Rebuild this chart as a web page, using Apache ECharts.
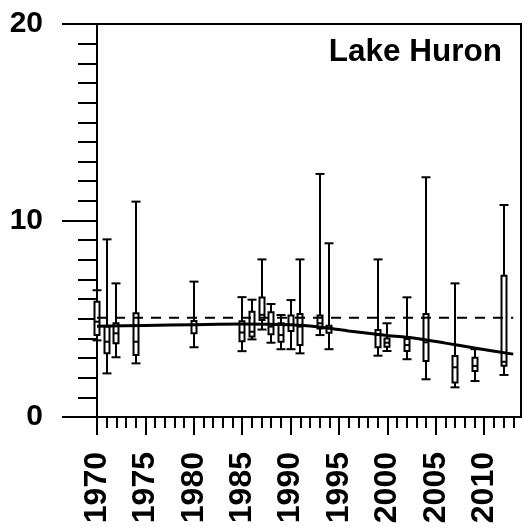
<!DOCTYPE html>
<html>
<head>
<meta charset="utf-8">
<script src="https://cdn.jsdelivr.net/npm/echarts@6/dist/echarts.min.js"></script>
<style>
html,body{margin:0;padding:0;background:#fff;}
#chart{width:523px;height:527px;}
</style>
</head>
<body>
<div id="chart"></div>
<script>
// Sampling years
var years   = [1970, 1971, 1972, 1974, 1980, 1985, 1986, 1987, 1988, 1989, 1990, 1991, 1993, 1994, 1999, 2000, 2002, 2004, 2007, 2009, 2012];
// Box statistics (lower whisker, Q1, median, Q3, upper whisker)
var lowers  = [3.90, 2.22, 3.04, 2.73, 3.55, 3.35, 3.95, 4.45, 3.78, 3.45, 3.45, 3.24, 4.17, 3.45, 3.12, 3.36, 2.94, 1.92, 1.51, 1.83, 2.14];
var q1s     = [4.17, 3.24, 3.75, 3.16, 4.26, 3.85, 4.10, 4.94, 4.21, 3.83, 4.38, 3.66, 4.51, 4.29, 3.55, 3.58, 3.36, 2.85, 1.75, 2.34, 2.61];
var medians = [4.85, 3.83, 4.26, 3.83, 4.68, 4.30, 4.34, 5.20, 4.60, 4.17, 4.68, 4.60, 4.77, 4.53, 4.17, 3.78, 3.66, 3.80, 2.53, 2.60, 2.81];
var q3s     = [5.87, 4.60, 4.77, 5.28, 4.88, 4.87, 5.36, 6.08, 5.33, 4.77, 5.16, 5.24, 5.16, 4.65, 4.43, 4.00, 3.97, 5.24, 3.10, 3.02, 7.19];
var uppers  = [6.45, 9.04, 6.80, 10.96, 6.89, 6.10, 5.97, 8.02, 5.75, 5.19, 5.95, 8.02, 12.37, 8.84, 8.02, 4.77, 6.09, 12.20, 6.80, 3.45, 10.79];

// Trend (smoothed) line
var trendYears  = [1970, 1975, 1980, 1985, 1990, 1992, 1994, 1996, 2000, 2003, 2006, 2009, 2013];
var trendValues = [4.62, 4.66, 4.70, 4.73, 4.70, 4.63, 4.52, 4.38, 4.15, 4.00, 3.76, 3.51, 3.20];

// Reference (dashed) level
var refYears = [1970, 2013];
var refLevel = 5.05;

// Axis ticks / labels
var majorYearTicks = [1970, 1975, 1980, 1985, 1990, 1995, 2000, 2005, 2010];
var minorYearTicks = [];
for (var yy = 1970; yy <= 2013; yy++) minorYearTicks.push(yy);
var title = 'Lake Huron';

var boxData = years.map(function (y, i) { return [y, lowers[i], q1s[i], medians[i], q3s[i], uppers[i]]; });
var trendData = trendYears.map(function (y, i) { return [y, trendValues[i]]; });
var refData = refYears.map(function (y) { return [y, refLevel]; });

var FONT = 'Liberation Sans, Arial, sans-serif';
var chart = echarts.init(document.getElementById('chart'), null, {renderer: 'canvas'});
chart.setOption({
  animation: false,
  title: {
    text: title, right: 16, top: 31,
    textStyle: {fontFamily: FONT, fontSize: 31.5, fontWeight: 'bold', color: '#000'}
  },
  grid: {left: 97, right: 2, top: 24, bottom: 110, show: true, borderColor: '#000', borderWidth: 2, backgroundColor: 'transparent'},
  xAxis: [{
    type: 'value', min: 1970, max: 2013.8, position: 'bottom',
    axisLine: {show: true, onZero: false, lineStyle: {color: '#000', width: 2}},
    axisTick: {show: true, length: 18, lineStyle: {color: '#000', width: 2}, customValues: majorYearTicks},
    axisLabel: {show: true, rotate: 90, margin: 35, customValues: majorYearTicks,
      fontFamily: FONT, fontSize: 32, fontWeight: 'bold', color: '#000',
      formatter: function (v) { return String(v); }},
    splitLine: {show: false}
  }, {
    type: 'value', min: 1970, max: 2013.8, position: 'bottom', offset: 0,
    axisLine: {show: false},
    axisTick: {show: true, length: 11, lineStyle: {color: '#000', width: 2}, customValues: minorYearTicks},
    axisLabel: {show: false},
    splitLine: {show: false}
  }],
  yAxis: {
    type: 'value', min: 0, max: 20, interval: 10,
    axisLine: {show: true, onZero: false, lineStyle: {color: '#000', width: 2}},
    axisTick: {show: true, length: 35, lineStyle: {color: '#000', width: 2}},
    minorTick: {show: true, splitNumber: 10, length: 19, lineStyle: {color: '#000', width: 2}},
    axisLabel: {margin: 54, fontFamily: FONT, fontSize: 30, fontWeight: 'bold', color: '#000'},
    splitLine: {show: false}, minorSplitLine: {show: false}
  },
  series: [{
    type: 'custom', xAxisIndex: 0, z: 2, clip: false,
    encode: {x: 0, y: [1, 2, 3, 4, 5]},
    data: boxData,
    renderItem: function (params, api) {
      var x = api.value(0);
      var pMin = api.coord([x, api.value(1)]);
      var pQ1 = api.coord([x, api.value(2)]);
      var pMed = api.coord([x, api.value(3)]);
      var pQ3 = api.coord([x, api.value(4)]);
      var pMax = api.coord([x, api.value(5)]);
      var cx = Math.round(pMin[0]);
      var bw = 5, cw = 9;
      var st = {stroke: '#000', lineWidth: 2, fill: null};
      return {type: 'group', children: [
        {type: 'line', shape: {x1: cx, y1: pMax[1], x2: cx, y2: pQ3[1]}, style: st},
        {type: 'line', shape: {x1: cx, y1: pQ1[1], x2: cx, y2: pMin[1]}, style: st},
        {type: 'line', shape: {x1: cx - cw / 2, y1: pMax[1], x2: cx + cw / 2, y2: pMax[1]}, style: st},
        {type: 'line', shape: {x1: cx - cw / 2, y1: pMin[1], x2: cx + cw / 2, y2: pMin[1]}, style: st},
        {type: 'rect', shape: {x: cx - bw / 2, y: pQ3[1], width: bw, height: pQ1[1] - pQ3[1]}, style: {fill: '#fff', stroke: '#000', lineWidth: 2}},
        {type: 'line', shape: {x1: cx - bw / 2, y1: pMed[1], x2: cx + bw / 2, y2: pMed[1]}, style: st}
      ]};
    }
  }, {
    type: 'line', data: refData, symbol: 'none', z: 3,
    lineStyle: {color: '#000', width: 2, type: [10, 8]}
  }, {
    type: 'line', data: trendData, symbol: 'none', smooth: 0.3, z: 4,
    lineStyle: {color: '#000', width: 3}
  }]
});
</script>
</body>
</html>
